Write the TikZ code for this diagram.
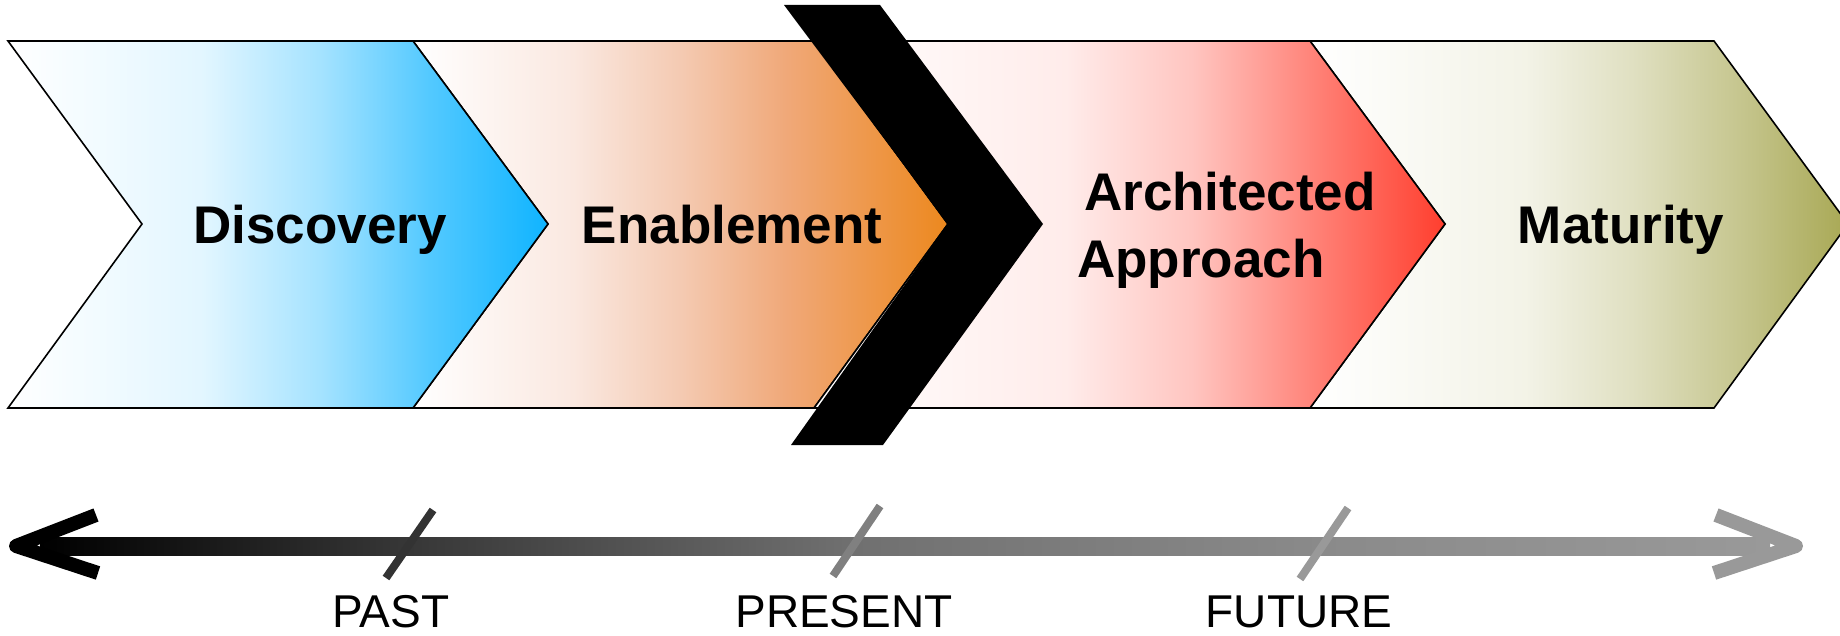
\documentclass[tikz,border=0pt]{standalone}
\usepackage{fontspec}
\setmainfont{Liberation Sans}
\definecolor{discR}{RGB}{16,180,255}
\definecolor{enabR}{RGB}{236,136,30}
\definecolor{archR}{RGB}{255,62,46}
\definecolor{matR}{RGB}{168,168,84}
\colorlet{discA}{discR!12!white}\colorlet{discB}{discR!38!white}\colorlet{discC}{discR!72!white}
\definecolor{enabA}{RGB}{250,232,224}
\definecolor{enabB}{RGB}{244,202,178}
\definecolor{enabC}{RGB}{240,168,120}
\colorlet{archA}{archR!10!white}\colorlet{archB}{archR!30!white}\colorlet{archC}{archR!66!white}
\colorlet{matA}{matR!14!white}\colorlet{matB}{matR!36!white}\colorlet{matC}{matR!66!white}
\definecolor{tgrayA}{RGB}{51,51,51}
\definecolor{tgrayB}{RGB}{128,128,128}
\definecolor{tgrayC}{RGB}{153,153,153}
\definecolor{tlA}{RGB}{52,52,52}
\definecolor{tlB}{RGB}{112,112,112}
\definecolor{tlC}{RGB}{138,138,138}
\pgfdeclarehorizontalshading{discS}{100bp}{color(0bp)=(white); color(25bp)=(white); color(43bp)=(discA); color(54bp)=(discB); color(64bp)=(discC); color(75bp)=(discR); color(100bp)=(discR)}
\pgfdeclarehorizontalshading{enabS}{100bp}{color(0bp)=(white); color(25bp)=(white); color(40bp)=(enabA); color(50bp)=(enabB); color(60bp)=(enabC); color(75bp)=(enabR); color(100bp)=(enabR)}
\pgfdeclarehorizontalshading{archS}{100bp}{color(0bp)=(white); color(25bp)=(white); color(45bp)=(archA); color(55bp)=(archB); color(65bp)=(archC); color(75bp)=(archR); color(100bp)=(archR)}
\pgfdeclarehorizontalshading{matS}{100bp}{color(0bp)=(white); color(25bp)=(white); color(45bp)=(matA); color(55bp)=(matB); color(65bp)=(matC); color(75bp)=(matR); color(100bp)=(matR)}
\pgfdeclarehorizontalshading{lineS}{100bp}{color(0bp)=(black); color(25bp)=(black); color(35bp)=(tlA); color(48.5bp)=(tlB); color(62bp)=(tlC); color(75bp)=(tgrayC); color(100bp)=(tgrayC)}
\begin{document}
\begin{tikzpicture}[x=1pt,y=-1pt,
  chev/.style={draw=black,line width=1.6pt,line join=miter},
  phase/.style={font=\fontsize{53}{63}\selectfont\bfseries,inner sep=0pt},
  era/.style={font=\fontsize{46}{54}\selectfont,inner sep=0pt},
  tick/.style={line width=8pt},
  head/.style={line width=14pt,line join=round}]
\useasboundingbox (0,0) rectangle (1840,636);
% phase chevrons
\path[chev,shading=enabS]
  (413,41) -- (814,41) -- (948,224) -- (814,408) -- (413,408) -- (548,224) -- cycle;
\path[chev,shading=discS]
  (8,41) -- (413,41) -- (548,224) -- (413,408) -- (8,408) -- (142,224) -- cycle;
\path[chev,shading=matS]
  (1310,41) -- (1714,41) -- (1848,224) -- (1714,408) -- (1310,408) -- (1445,224) -- cycle;
\path[chev,shading=archS]
  (814,41) -- (1310,41) -- (1445,224) -- (1310,408) -- (814,408) -- (948,224) -- cycle;
% black "now" chevron
\fill[black] (784,5) -- (880,5) -- (1043,224) -- (883,445) -- (791,445) -- (948,224) -- cycle;
% phase labels
\node[phase,anchor=base] (disc) at (320,244) {Discovery};
\node[phase,anchor=base] (enab) at (732,244) {Enablement};
\node[phase,anchor=base west] (arch1) at (1084,211) {Architected};
\node[phase,anchor=base west] (arch2) at (1077,278) {Approach};
\node[phase,anchor=base] (matu) at (1621,244) {Maturity};
% timeline
\coordinate (tl) at (16,546);
\coordinate (tr) at (1796,546);
\shade[shading=lineS] (40,537) rectangle (1770,555);
\draw[head,black] (96,515) -- (tl) -- (98,573);
\draw[head,tgrayC] (1716,515) -- (tr) -- (1714,573);
\draw[tick,tgrayA] (386,578) -- (433,510);
\draw[tick,tgrayB] (833,576) -- (880,506);
\draw[tick,tgrayC] (1300,579) -- (1348,508);
% era labels
\node[era,anchor=base] (past) at (391,627) {PAST};
\node[era,anchor=base] (pres) at (844,627) {PRESENT};
\node[era,anchor=base] (futu) at (1299,627) {FUTURE};
\end{tikzpicture}
\end{document}
